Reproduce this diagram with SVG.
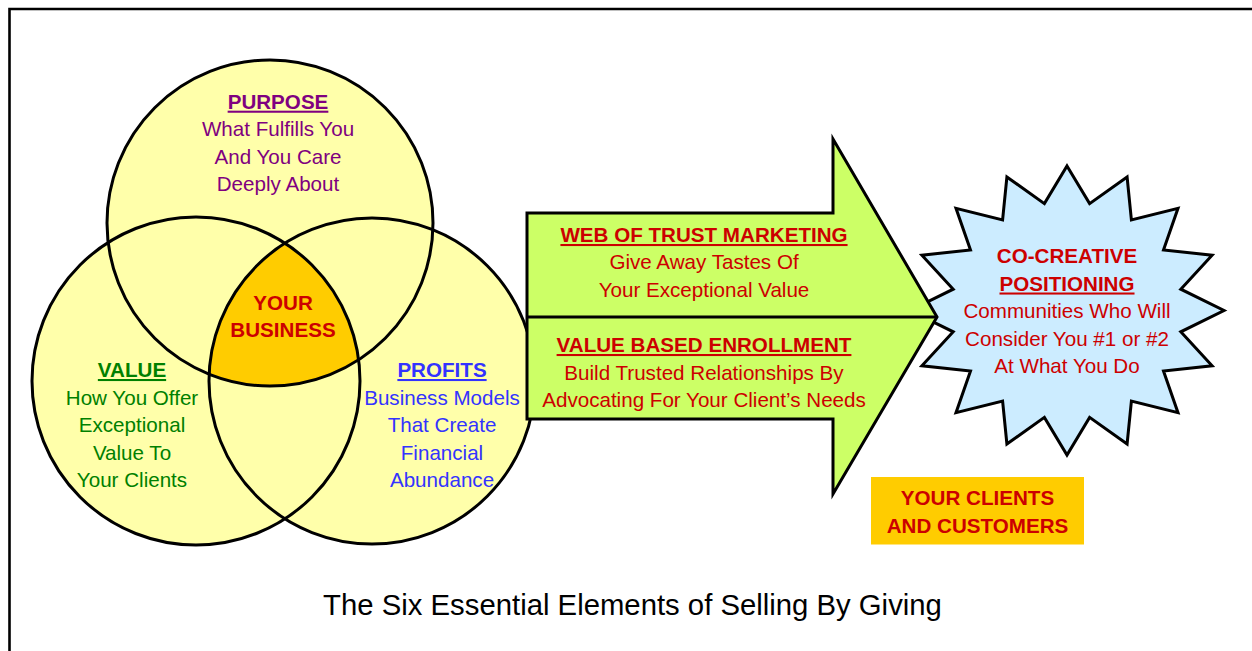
<svg xmlns="http://www.w3.org/2000/svg" width="1252" height="651" viewBox="0 0 1252 651">
<style>
  text { font-family: "Liberation Sans", Arial, sans-serif; font-size: 20.6px; text-anchor: middle; }
  .b { font-weight: bold; }
  .u { text-decoration: underline; }
  .purple { fill: #800080; }
  .green { fill: #008000; }
  .blue { fill: #3333FF; }
  .red { fill: #CC0000; }
  .circfill { fill: #FFFFAA; stroke: none; }
  .circline { fill: none; stroke: #000; stroke-width: 3; }
  .shape { stroke: #000; stroke-width: 3; stroke-linejoin: miter; }
</style>
<rect x="0" y="0" width="1252" height="651" fill="#fff"/>
<g id="frame">
  <path d="M9.5 651 V9 H1252" fill="none" stroke="#000" stroke-width="2.6"/>
</g>
<g id="venn-fills">
  <circle class="circfill" cx="270" cy="223" r="163"/>
  <circle class="circfill" cx="196" cy="381" r="164"/>
  <circle class="circfill" cx="372" cy="381" r="163"/>
</g>
<g id="your-business">
  <path d="M284 242.6 A163 163 0 0 0 209.1 374.2 A163 163 0 0 0 358.6 359.8 A164 164 0 0 0 284 242.6 Z" fill="#FFCC00" stroke="none"/>
  <text class="b red" x="283" y="309.5">YOUR</text>
  <text class="b red" x="283" y="337">BUSINESS</text>
</g>
<g id="venn-lines">
  <circle class="circline" cx="270" cy="223" r="163"/>
  <circle class="circline" cx="196" cy="381" r="164"/>
  <circle class="circline" cx="372" cy="381" r="163"/>
</g>
<g id="purpose">
  <text class="b u purple" x="278" y="108.7">PURPOSE</text>
  <text class="purple" x="278" y="136.2">What Fulfills You</text>
  <text class="purple" x="278" y="163.7">And You Care</text>
  <text class="purple" x="278" y="191.2">Deeply About</text>
</g>
<g id="value">
  <text class="b u green" x="132" y="377">VALUE</text>
  <text class="green" x="132" y="404.7">How You Offer</text>
  <text class="green" x="132" y="432">Exceptional</text>
  <text class="green" x="132" y="459.7">Value To</text>
  <text class="green" x="132" y="487">Your Clients</text>
</g>
<g id="profits">
  <text class="b u blue" x="442" y="377">PROFITS</text>
  <text class="blue" x="442" y="404.7">Business Models</text>
  <text class="blue" x="442" y="432">That Create</text>
  <text class="blue" x="442" y="459.7">Financial</text>
  <text class="blue" x="442" y="487">Abundance</text>
</g>
<g id="positioning">
  <polygon class="shape" fill="#CCECFF" points="1067,166 1089.6,203.6 1127.1,177 1131.4,219.9 1178,208.3 1163.5,249.9 1212.1,255.2 1180.8,289.2 1224,310.5 1180.8,331.8 1212.1,365.8 1163.5,371.1 1178,412.7 1131.4,401.1 1127.1,444 1089.6,417.4 1067,455 1044.4,417.4 1006.9,444 1002.6,401.1 956,412.7 970.5,371.1 921.9,365.8 953.2,331.8 910,310.5 953.2,289.2 921.9,255.2 970.5,249.9 956,208.3 1002.6,219.9 1006.9,177 1044.4,203.6"/>
  <text class="b red" x="1067" y="263">CO-CREATIVE</text>
  <text class="b u red" x="1067" y="290.5">POSITIONING</text>
  <text class="red" x="1067" y="318">Communities Who Will</text>
  <text class="red" x="1067" y="345.7">Consider You #1 or #2</text>
  <text class="red" x="1067" y="373">At What You Do</text>
</g>
<g id="connectors">
  <g id="arrow">
    <polygon class="shape" fill="#CCFF66" points="527,213 833,213 833,139 937,317 833,494 833,419 527,419"/>
    <line x1="527" y1="317" x2="936" y2="317" stroke="#000" stroke-width="3"/>
  </g>
</g>
<g id="web-of-trust">
  <text class="b u red" x="704" y="242">WEB OF TRUST MARKETING</text>
  <text class="red" x="704" y="269">Give Away Tastes Of</text>
  <text class="red" x="704" y="297">Your Exceptional Value</text>
</g>
<g id="value-based">
  <text class="b u red" x="704" y="352">VALUE BASED ENROLLMENT</text>
  <text class="red" x="704" y="379.5">Build Trusted Relationships By</text>
  <text class="red" x="704" y="407">Advocating For Your Client’s Needs</text>
</g>
<g id="clients">
  <rect x="871" y="477" width="213" height="67.5" fill="#FFCC00"/>
  <text class="b red" x="977.5" y="505">YOUR CLIENTS</text>
  <text class="b red" x="977.5" y="532.5">AND CUSTOMERS</text>
</g>
<g id="title">
  <text x="632.5" y="614.5" style="font-size:29.3px" fill="#000">The Six Essential Elements of Selling By Giving</text>
</g>
</svg>
